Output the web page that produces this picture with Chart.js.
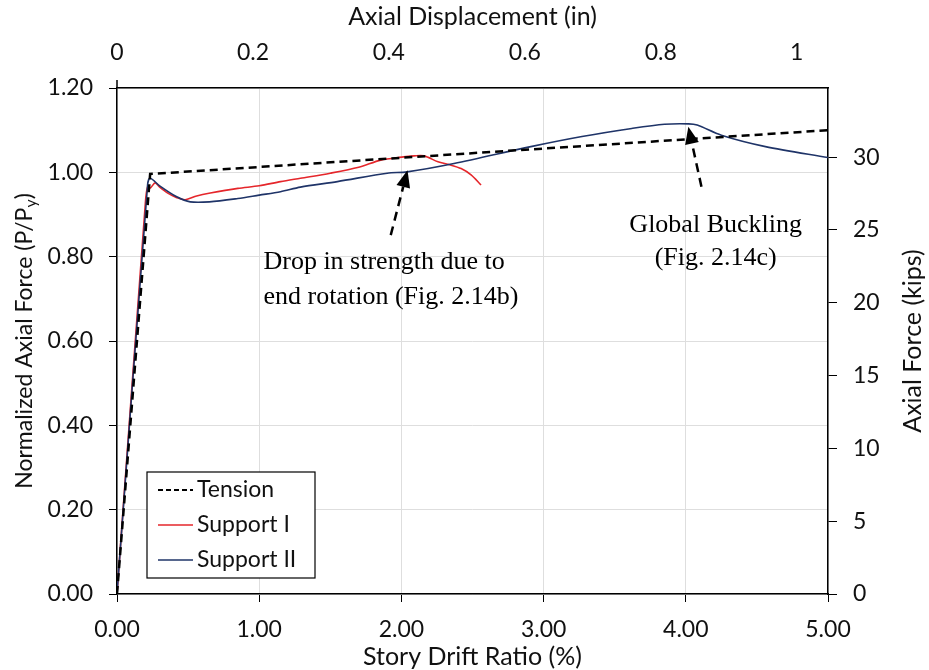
<!DOCTYPE html>
<html>
<head>
<meta charset="utf-8">
<script src="https://cdn.jsdelivr.net/npm/chart.js@4.4.1/dist/chart.umd.min.js"></script>
<style>
  body { margin: 0; background: #fff; }
</style>
</head>
<body>
<canvas id="chart" width="929" height="670"></canvas>
<script>
// story drift ratio (%) vs normalized axial force (P/Py)
const tensionX = [0, 0.233, 5.0];
const tensionY = [0, 0.996, 1.100];

const support1X = [0, 0.20, 0.215, 0.235, 0.268, 0.30, 0.36, 0.42, 0.48, 0.56, 0.656, 0.85, 1.00, 1.15, 1.29, 1.50, 1.70, 1.855, 2.00, 2.09, 2.16, 2.257, 2.34, 2.42, 2.49, 2.56];
const support1Y = [0, 0.93, 0.965, 0.963, 0.975, 0.965, 0.950, 0.940, 0.935, 0.944, 0.951, 0.962, 0.968, 0.978, 0.986, 0.998, 1.012, 1.029, 1.036, 1.039, 1.039, 1.025, 1.018, 1.009, 0.994, 0.970];

const support2X = [0, 0.215, 0.233, 0.30, 0.42, 0.515, 0.65, 0.85, 1.00, 1.15, 1.29, 1.55, 1.90, 2.04, 2.37, 2.91, 3.27, 3.62, 3.85, 4.02, 4.08, 4.25, 4.56, 5.0];
const support2Y = [0, 0.970, 0.986, 0.968, 0.942, 0.930, 0.930, 0.938, 0.946, 0.954, 0.965, 0.978, 0.998, 1.001, 1.021, 1.061, 1.085, 1.104, 1.114, 1.115, 1.112, 1.088, 1.061, 1.035];

// axis ranges / tick labels
const driftMax = 5;
const normMax = 1.2;
const dispMax = 1.046;   // top axis (in)
const kipsMax = 34.75;   // right axis (kips)
const dispTicks = [0, 0.2, 0.4, 0.6, 0.8, 1];
const kipsTicks = [0, 5, 10, 15, 20, 25, 30];

// annotation anchors in data units (drift %, P/Py)
const notes = [
  { lines: ['Drop in strength due to', 'end rotation (Fig. 2.14b)'], x: 1.03, y: [0.787, 0.704], align: 'left',
    tail: [1.925, 0.851], tip: [2.043, 1.005] },
  { lines: ['Global Buckling', '(Fig. 2.14c)'], x: 4.21, y: [0.875, 0.797], align: 'center',
    tail: [4.11, 0.966], tip: [4.018, 1.108] }
];

function toPoints(xs, ys) {
  return xs.map((x, i) => ({ x: x, y: ys[i] }));
}

const FONT = 'Lato, "Open Sans", sans-serif';
const TXT = '#111';
const BLUE = '#1f3468';
const RED = '#e5262b';

const annotationPlugin = {
  id: 'notes',
  afterDatasetsDraw(chart) {
    const ctx = chart.ctx;
    const xs = chart.scales.x, ys = chart.scales.y;
    ctx.save();
    ctx.fillStyle = '#000';
    ctx.font = '26px "Liberation Serif", "Times New Roman", serif';
    ctx.textBaseline = 'middle';
    notes.forEach(n => {
      ctx.textAlign = n.align;
      n.lines.forEach((t, i) => {
        ctx.fillText(t, xs.getPixelForValue(n.x), ys.getPixelForValue(n.y[i]));
      });
      // dashed arrow
      const x1 = xs.getPixelForValue(n.tail[0]), y1 = ys.getPixelForValue(n.tail[1]);
      const x2 = xs.getPixelForValue(n.tip[0]), y2 = ys.getPixelForValue(n.tip[1]);
      const a = Math.atan2(y2 - y1, x2 - x1);
      const headLen = 17, headW = 7;
      const bx = x2 - headLen * Math.cos(a), by = y2 - headLen * Math.sin(a);
      ctx.strokeStyle = '#000';
      ctx.lineWidth = 2.5;
      ctx.setLineDash([9, 6]);
      ctx.beginPath();
      ctx.moveTo(x1, y1);
      ctx.lineTo(bx, by);
      ctx.stroke();
      ctx.setLineDash([]);
      ctx.beginPath();
      ctx.moveTo(x2, y2);
      ctx.lineTo(bx + headW * Math.sin(a), by - headW * Math.cos(a));
      ctx.lineTo(bx - headW * Math.sin(a), by + headW * Math.cos(a));
      ctx.closePath();
      ctx.fill();
    });
    ctx.restore();
  },
  afterDraw(chart) {
    const ctx = chart.ctx;
    const area = chart.chartArea;
    const midY = (area.top + area.bottom) / 2;
    ctx.save();
    // left axis title with subscript
    ctx.fillStyle = TXT;
    ctx.translate(25, midY);
    ctx.rotate(-Math.PI / 2);
    ctx.textBaseline = 'middle';
    ctx.textAlign = 'left';
    const big = '23px ' + FONT, small = '16px ' + FONT;
    const s1 = 'Normalized Axial Force (P/P', s2 = 'y', s3 = ')';
    ctx.font = big; const w1 = ctx.measureText(s1).width, w3 = ctx.measureText(s3).width;
    ctx.font = small; const w2 = ctx.measureText(s2).width;
    let x0 = -(w1 + w2 + w3) / 2;
    ctx.font = big; ctx.fillText(s1, x0, 0);
    ctx.font = small; ctx.fillText(s2, x0 + w1, 6);
    ctx.font = big; ctx.fillText(s3, x0 + w1 + w2, 0);
    ctx.restore();

    // right axis title, reading bottom to top
    ctx.save();
    ctx.fillStyle = TXT;
    ctx.translate(913, midY);
    ctx.rotate(-Math.PI / 2);
    ctx.textBaseline = 'middle';
    ctx.textAlign = 'center';
    ctx.font = '25px ' + FONT;
    ctx.fillText('Axial Force (kips)', 0, 0);
    ctx.restore();

    // small tick at the top-left corner
    ctx.save();
    ctx.strokeStyle = '#000';
    ctx.lineWidth = 1.5;
    ctx.beginPath();
    ctx.moveTo(area.left, area.top - 8);
    ctx.lineTo(area.left, area.top);
    ctx.stroke();
    ctx.restore();

    // legend box
    ctx.save();
    const bx = area.left + 30, by = area.bottom - 122, bw = 168, bh = 106;
    ctx.fillStyle = '#fff';
    ctx.fillRect(bx, by, bw, bh);
    ctx.strokeStyle = '#000';
    ctx.lineWidth = 1.2;
    ctx.strokeRect(bx, by, bw, bh);
    ctx.font = '23px ' + FONT;
    ctx.textBaseline = 'middle';
    ctx.fillStyle = TXT;
    chart.data.datasets.forEach((ds, i) => {
      const yy = by + 18 + i * 35;
      ctx.strokeStyle = ds.borderColor;
      ctx.lineWidth = ds.borderDash ? 2.2 : 1.6;
      ctx.setLineDash(ds.borderDash ? [5, 3] : []);
      ctx.beginPath();
      ctx.moveTo(bx + 11, yy);
      ctx.lineTo(bx + 46, yy);
      ctx.stroke();
      ctx.setLineDash([]);
      ctx.fillText(ds.label, bx + 50, yy);
    });
    ctx.restore();
  }
};

const tickFont = { family: FONT, size: 23 };
const titleFont = { family: FONT, size: 25 };

new Chart(document.getElementById('chart'), {
  type: 'scatter',
  data: {
    datasets: [
      { label: 'Tension', data: toPoints(tensionX, tensionY), borderColor: '#000', borderWidth: 2.5,
        borderDash: [8, 5], showLine: true, pointRadius: 0, order: 0 },
      { label: 'Support I', data: toPoints(support1X, support1Y), borderColor: RED, borderWidth: 1.6,
        showLine: true, pointRadius: 0, tension: 0.3, order: 2 },
      { label: 'Support II', data: toPoints(support2X, support2Y), borderColor: BLUE, borderWidth: 1.6,
        showLine: true, pointRadius: 0, tension: 0.3, order: 1 }
    ]
  },
  options: {
    responsive: false,
    animation: false,
    layout: { padding: 0 },
    plugins: { legend: { display: false }, tooltip: { enabled: false } },
    scales: {
      x: {
        type: 'linear', position: 'bottom', min: 0, max: driftMax,
        ticks: { stepSize: 1, font: tickFont, color: TXT, padding: 14, callback: v => v.toFixed(2) },
        grid: { color: '#dedede', tickColor: '#000', tickLength: 8 },
        border: { color: '#000', width: 1.5 },
        title: { display: true, text: 'Story Drift Ratio (%)', font: titleFont, color: TXT, padding: { top: 0, bottom: -2 } },
        afterFit: s => { s.height = 76; }
      },
      x2: {
        type: 'linear', position: 'top', min: 0, max: dispMax,
        afterBuildTicks: s => { s.ticks = dispTicks.map(v => ({ value: v })); },
        ticks: { font: tickFont, color: TXT, padding: 14, callback: v => String(v) },
        grid: { display: false },
        border: { color: '#000', width: 1.5 },
        title: { display: true, text: 'Axial Displacement (in)', font: titleFont, color: TXT, padding: { top: 2, bottom: 0 } },
        afterFit: s => { s.height = 88; }
      },
      y: {
        type: 'linear', position: 'left', min: 0, max: normMax,
        ticks: { stepSize: 0.2, font: tickFont, color: TXT, padding: 16, callback: v => v.toFixed(2) },
        grid: { color: '#dedede', tickColor: '#000', tickLength: 8 },
        border: { color: '#000', width: 1.5 },
        afterFit: s => { s.width = 117; }
      },
      y2: {
        type: 'linear', position: 'right', min: 0, max: kipsMax,
        afterBuildTicks: s => { s.ticks = kipsTicks.map(v => ({ value: v })); },
        ticks: { font: tickFont, color: TXT, padding: 16 },
        grid: { drawOnChartArea: false, tickColor: '#000', tickLength: 9 },
        border: { color: '#000', width: 1.5 },
        afterFit: s => { s.width = 101; }
      }
    }
  },
  plugins: [annotationPlugin]
});
</script>
</body>
</html>
